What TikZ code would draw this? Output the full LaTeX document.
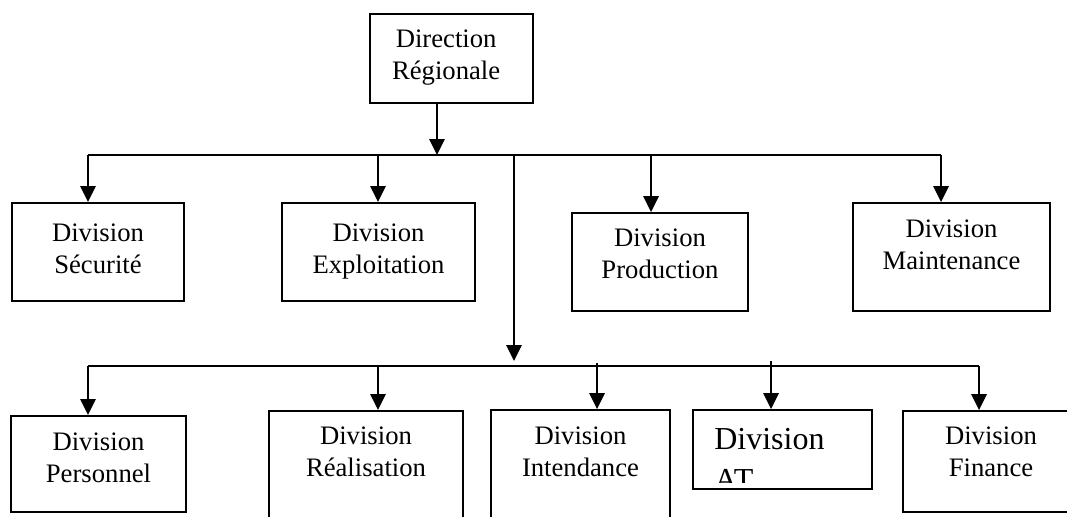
\documentclass[tikz,border=0pt]{standalone}
\usepackage{fontspec}
\setmainfont{Liberation Serif}
\usetikzlibrary{arrows.meta,fit}

\tikzset{
  box/.style={draw=black, line width=1.4pt, inner sep=0pt, fill=white},
  lbl/.style={align=center, inner sep=0pt, anchor=north,
    font=\fontsize{20}{24}\selectfont},
  bigl/.style={align=left, inner sep=0pt, anchor=north west,
    font=\fontsize{24}{31}\selectfont},
  bus/.style={draw=black, line width=1.2pt},
  arr/.style={draw=black, line width=1.6pt,
    -{Triangle[length=12pt,width=11.5pt]}}
}

\begin{document}
\begin{tikzpicture}[x=0.75pt,y=-0.75pt]
  \useasboundingbox (0,0) rectangle (1067,517);
  \clip (0,0) rectangle (1067,517);

  % boxes
  \node[box, fit={(370,14) (533,103)}]   (dir)   {};
  \node[box, fit={(12,203) (184,301)}]   (sec)   {};
  \node[box, fit={(282,203) (475,301)}]  (expl)  {};
  \node[box, fit={(572,213) (748,311)}]  (prod)  {};
  \node[box, fit={(853,203) (1050,311)}] (maint) {};
  \node[box, fit={(11,416) (186,512)}]   (pers)  {};
  \node[box, fit={(269,411) (463,530)}]  (real)  {};
  \node[box, fit={(491,410) (670,530)}]  (inten) {};
  \node[box, fit={(693,410) (872,489)}]  (at)    {};
  \node[box, fit={(903,411) (1079,512)}] (fin)   {};

  % texts
  \node[lbl] (tdir)   at ([xshift=-4pt,yshift=-12.75pt]dir.north)  {Direction\\Régionale};
  \node[lbl] (tsec)   at ([yshift=-16pt]sec.north)    {Division\\Sécurité};
  \node[lbl] (texpl)  at ([yshift=-16pt]expl.north)   {Division\\Exploitation};
  \node[lbl] (tprod)  at ([yshift=-12.75pt]prod.north)  {Division\\Production};
  \node[lbl] (tmaint) at ([yshift=-13.5pt]maint.north) {Division\\Maintenance};
  \node[lbl] (tpers)  at ([yshift=-13.5pt]pers.north)  {Division\\Personnel};
  \node[lbl] (treal)  at ([yshift=-12.75pt]real.north)  {Division\\Réalisation};
  \node[lbl] (tinten) at ([yshift=-13.5pt]inten.north) {Division\\Intendance};
  \node[lbl] (tfin)   at ([yshift=-12.75pt]fin.north)   {Division\\Finance};
  \begin{scope}
    \clip (693,410) rectangle (872,482);
    \node[bigl] (tat) at (714,428) {Division\\AT};
  \end{scope}

  % junction points
  \coordinate (j1)  at (437,155);
  \coordinate (b1L) at (88,155);
  \coordinate (b1R) at (941,155);
  \coordinate (t1)  at (378,155);
  \coordinate (t2)  at (651,155);
  \coordinate (j2)  at (514,155);
  \coordinate (j3)  at (514,361);
  \coordinate (b2L) at (88,366);
  \coordinate (b2R) at (979,366);
  \coordinate (u1)  at (378,366);
  \coordinate (u2)  at (597,363);
  \coordinate (u3)  at (771,361);

  % first level
  \draw[arr] (j1 |- dir.south) -- (j1);
  \draw[bus] (b1L) -- (b1R);
  \draw[arr] (b1L) -- (b1L |- sec.north);
  \draw[arr] (t1)  -- (t1 |- expl.north);
  \draw[arr] (t2)  -- (t2 |- prod.north);
  \draw[arr] (b1R) -- (b1R |- maint.north);

  % second level
  \draw[arr] (j2) -- (j3);
  \draw[bus] (b2L) -- (b2R);
  \draw[arr] (b2L) -- (b2L |- pers.north);
  \draw[arr] (u1)  -- (u1 |- real.north);
  \draw[arr] (u2)  -- (u2 |- inten.north);
  \draw[arr] (u3)  -- (u3 |- at.north);
  \draw[arr] (b2R) -- (b2R |- fin.north);
\end{tikzpicture}
\end{document}
